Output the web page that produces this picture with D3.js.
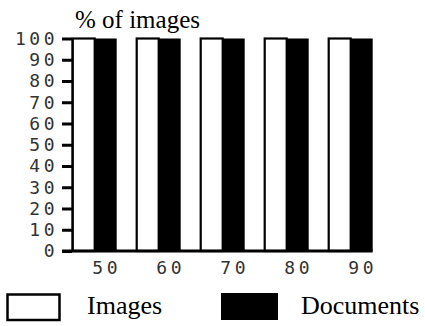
<!DOCTYPE html>
<html>
<head>
<meta charset="utf-8">
<script src="https://cdn.jsdelivr.net/npm/d3@7"></script>
<style>
  body { margin: 0; background: #fff; }
  svg { display: block; }
</style>
</head>
<body>
<div id="chart"></div>
<script>
// categories on the x axis and the two series
const categories = ["50", "60", "70", "80", "90"];
const series = ["Images", "Documents"];
const images = [100, 100, 100, 100, 100];
const documents = [100, 100, 100, 100, 100];
const yTicks = [0, 10, 20, 30, 40, 50, 60, 70, 80, 90, 100];

const width = 425, height = 326;
const monoFont = "'DejaVu Sans Mono', monospace";
const serifFont = "'Liberation Serif', 'Times New Roman', serif";

const svg = d3.select("#chart")
    .append("svg")
    .attr("width", width)
    .attr("height", height);

const x = d3.scaleBand()
    .domain(categories)
    .range([72.7, 372.7])
    .paddingInner(20 / 64)
    .paddingOuter(0);

const xSub = d3.scaleBand()
    .domain(series)
    .range([0, x.bandwidth()]);

const y = d3.scaleLinear()
    .domain([0, 100])
    .range([251, 38.5]);

const rows = categories.map((c, i) => ({ cat: c, values: [images[i], documents[i]] }));

// bars, white ones outlined, black ones drawn on top
const groups = svg.selectAll(".grp")
    .data(rows)
    .enter()
    .append("g")
    .attr("class", "grp")
    .attr("transform", d => `translate(${x(d.cat)},0)`);

groups.append("rect")
    .attr("x", xSub("Images"))
    .attr("y", d => y(d.values[0]))
    .attr("width", xSub.bandwidth())
    .attr("height", d => y(0) - y(d.values[0]))
    .attr("fill", "#fff")
    .attr("stroke", "#000")
    .attr("stroke-width", 2.2);

groups.append("rect")
    .attr("x", xSub("Documents"))
    .attr("y", d => y(d.values[1]))
    .attr("width", xSub.bandwidth())
    .attr("height", d => y(0) - y(d.values[1]))
    .attr("fill", "#000");

// y axis
const yAxis = svg.append("g")
    .attr("transform", "translate(72,0)")
    .call(d3.axisLeft(y).tickValues(yTicks).tickSize(10).tickSizeOuter(0).tickPadding(4));

yAxis.select(".domain").attr("stroke", "#000").attr("stroke-width", 2);
yAxis.selectAll(".tick line").attr("stroke", "#000").attr("stroke-width", 3);
yAxis.selectAll(".tick text")
    .attr("font-family", monoFont)
    .attr("font-size", 18)
    .attr("letter-spacing", 3.5)
    .attr("fill", "#333");

// x axis baseline
svg.append("line")
    .attr("x1", 62)
    .attr("x2", x(categories[categories.length - 1]) + x.bandwidth())
    .attr("y1", y(0))
    .attr("y2", y(0))
    .attr("stroke", "#000")
    .attr("stroke-width", 3);

const xAxis = svg.append("g")
    .attr("transform", `translate(0,${y(0)})`)
    .call(d3.axisBottom(x).tickSize(0).tickPadding(0));

xAxis.select(".domain").remove();
xAxis.selectAll(".tick text")
    .attr("x", x.bandwidth() * 0.25 + 1)
    .attr("y", 23)
    .attr("dy", 0)
    .attr("font-family", monoFont)
    .attr("font-size", 18)
    .attr("letter-spacing", 3.5)
    .attr("fill", "#333");

// title
svg.append("text")
    .attr("x", 75)
    .attr("y", 28)
    .attr("font-family", serifFont)
    .attr("font-size", 25)
    .attr("fill", "#000")
    .text("% of images");

// legend
svg.append("rect")
    .attr("x", 7.5).attr("y", 294.5)
    .attr("width", 52).attr("height", 25.5)
    .attr("fill", "#fff").attr("stroke", "#000").attr("stroke-width", 2.5);

svg.append("text")
    .attr("x", 87).attr("y", 314)
    .attr("font-family", serifFont).attr("font-size", 26)
    .text(series[0]);

svg.append("rect")
    .attr("x", 221).attr("y", 293)
    .attr("width", 57).attr("height", 27)
    .attr("fill", "#000");

svg.append("text")
    .attr("x", 301).attr("y", 314)
    .attr("font-family", serifFont).attr("font-size", 26)
    .text(series[1]);
</script>
</body>
</html>
